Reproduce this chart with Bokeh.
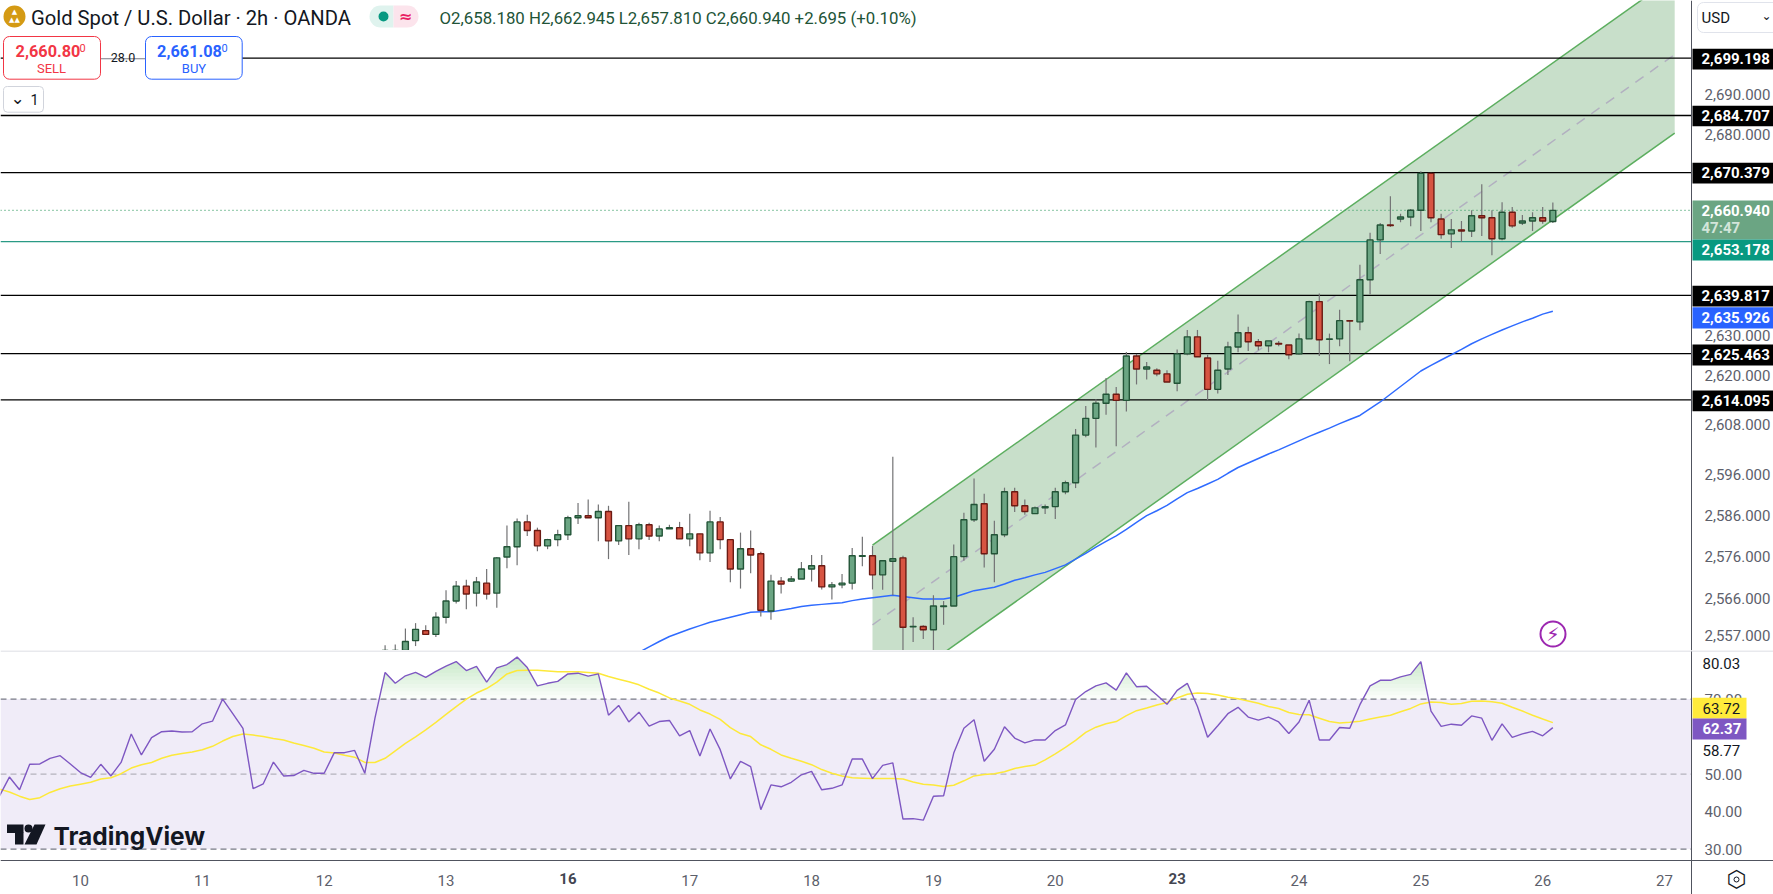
from bokeh.plotting import figure
from bokeh.layouts import column
from bokeh.models import (Range1d, FixedTicker, NumeralTickFormatter, Label, BoxAnnotation,
                          PolyAnnotation, ColumnDataSource)
from bokeh.embed import file_html
from bokeh.resources import INLINE
import numpy as np

# ---------- data ----------
opens = [2548.0,2549.0,2551.0,2555.8,2558.2,2557.3,2561.4,2565.3,2568.9,2567.2,2569.6,2567.2,2575.9,2578.4,2584.4,2582.3,2578.6,2580.1,2581.3,2585.4,
 2585.9,2585.4,2586.9,2579.8,2583.5,2580.3,2583.7,2581.0,2582.7,2583.0,2580.3,2581.5,2576.9,2584.4,2580.1,2573.0,2577.9,2576.7,2562.9,2570.1,
 2570.1,2570.6,2573.0,2573.8,2568.7,2569.2,2569.6,2576.1,2576.2,2571.6,2574.9,2575.7,2559.1,2559.2,2558.4,2564.0,2564.1,2576.0,2584.9,2588.8,
 2576.7,2581.3,2591.7,2588.3,2586.4,2587.8,2588.1,2591.7,2593.9,2605.5,2609.6,2613.3,2615.5,2614.0,2624.9,2621.7,2621.4,2620.5,2618.2,2625.4,
 2629.6,2624.4,2616.7,2621.7,2627.1,2630.6,2628.4,2627.4,2628.0,2627.6,2625.4,2629.1,2638.3,2629.0,2629.1,2633.6,2633.3,2643.7,2653.6,2657.3,
 2658.8,2659.3,2661.0,2670.2,2658.8,2655.1,2656.1,2655.8,2659.6,2659.1,2653.9,2660.5,2657.8,2658.3,2659.1,2658.18]
highs = [2554.7,2554.9,2558.7,2560.0,2559.5,2562.6,2567.9,2570.1,2570.4,2571.1,2573.0,2575.9,2583.5,2585.2,2586.1,2583.0,2580.3,2582.5,2585.9,2589.0,
 2589.8,2588.6,2588.3,2583.5,2589.3,2584.2,2584.2,2583.5,2583.7,2584.4,2586.4,2581.5,2587.1,2585.6,2580.1,2581.8,2582.3,2577.2,2571.6,2571.1,
 2571.3,2574.7,2576.4,2576.4,2569.9,2571.8,2578.1,2580.8,2578.6,2575.2,2600.2,2576.2,2561.4,2559.5,2566.7,2565.3,2578.9,2586.6,2594.9,2591.2,
 2584.7,2592.7,2592.7,2589.8,2588.1,2588.6,2592.7,2594.4,2607.0,2612.6,2614.3,2619.5,2617.3,2625.9,2625.4,2623.4,2621.9,2621.4,2626.5,2631.3,
 2631.3,2625.2,2623.7,2628.4,2635.1,2632.1,2629.1,2628.6,2628.6,2627.6,2630.4,2638.5,2640.3,2630.4,2636.3,2633.6,2647.4,2655.4,2657.8,2664.5,
 2660.1,2661.3,2670.7,2670.379,2660.1,2658.8,2658.3,2661.0,2667.5,2661.0,2663.0,2661.8,2659.8,2660.5,2661.8,2662.945]
lows = [2545.0,2546.0,2549.0,2554.5,2557.3,2556.7,2559.9,2564.7,2563.3,2564.0,2565.7,2563.7,2573.2,2573.9,2581.0,2577.3,2577.8,2578.5,2580.0,2583.9,
 2585.4,2579.7,2575.4,2578.8,2576.4,2577.8,2580.0,2579.7,2582.7,2580.3,2578.5,2575.1,2574.7,2577.8,2569.8,2568.3,2572.0,2561.6,2560.8,2567.1,
 2569.9,2570.6,2570.0,2568.1,2565.7,2568.4,2568.1,2573.7,2568.1,2568.0,2566.7,2552.0,2555.5,2556.2,2552.0,2559.6,2564.1,2575.0,2584.4,2573.4,
 2569.8,2580.7,2586.8,2586.1,2586.4,2586.3,2585.1,2591.1,2592.6,2605.0,2602.5,2610.5,2602.8,2611.3,2617.9,2619.1,2619.9,2618.5,2616.2,2625.1,
 2624.7,2614.0,2615.7,2620.2,2625.8,2626.1,2626.3,2625.8,2627.3,2624.1,2625.2,2629.1,2624.9,2622.9,2627.3,2623.6,2631.2,2640.1,2650.1,2656.8,
 2658.0,2657.0,2655.8,2658.0,2653.9,2651.6,2653.1,2654.3,2654.6,2649.8,2653.5,2656.6,2657.3,2655.8,2657.6,2657.81]
closes = [2551.0,2552.0,2555.6,2558.5,2557.3,2561.4,2565.3,2568.9,2567.0,2569.9,2567.0,2575.7,2578.4,2584.4,2582.3,2578.6,2580.1,2581.3,2585.4,2585.9,
 2585.4,2586.9,2579.8,2583.5,2580.3,2583.7,2581.0,2582.7,2583.0,2580.3,2581.5,2576.9,2584.4,2580.1,2573.0,2577.9,2576.4,2563.1,2570.1,2569.4,
 2570.6,2573.0,2573.8,2568.7,2569.2,2569.6,2576.2,2576.2,2571.6,2575.0,2575.5,2559.0,2559.2,2558.4,2564.1,2564.1,2576.0,2584.9,2588.6,2576.7,
 2581.3,2591.7,2588.3,2586.9,2587.8,2588.1,2591.7,2593.9,2605.5,2609.6,2613.3,2615.5,2614.0,2624.9,2621.7,2622.2,2620.5,2618.5,2625.4,2629.6,
 2624.7,2616.7,2621.4,2627.1,2630.6,2628.4,2627.4,2628.6,2627.8,2625.2,2629.1,2638.3,2628.9,2629.1,2633.6,2633.5,2643.7,2653.6,2657.3,2657.2,
 2659.3,2661.0,2670.2,2659.1,2654.9,2656.1,2655.8,2659.6,2659.1,2653.9,2660.5,2657.1,2658.3,2659.1,2658.3,2660.94]

ema_values = [2553.0,2554.3,2555.6,2556.8,2557.7,2558.6,2559.4,2560.2,2560.8,2561.4,2562.0,2562.6,2562.7,2562.7,2563.1,2563.5,2564.0,2564.3,2564.5,2564.7,
 2564.9,2565.4,2565.8,2566.1,2566.4,2566.7,2566.4,2566.1,2565.8,2565.8,2565.8,2566.2,2567.0,2567.8,2568.2,2568.6,2569.4,2570.3,2570.9,2571.6,
 2572.2,2573.1,2574.0,2575.4,2576.8,2578.3,2579.7,2581.0,2582.6,2584.3,2585.9,2587.1,2588.4,2590.0,2591.5,2592.5,2593.6,2594.7,2596.2,2597.6,
 2598.7,2599.8,2600.9,2601.9,2603.0,2604.1,2605.2,2606.2,2607.2,2608.3,2609.3,2610.3,2612.0,2613.6,2615.5,2617.4,2619.3,2621.2,2622.6,2623.9,
 2625.2,2626.5,2627.9,2629.1,2630.2,2631.3,2632.3,2633.3,2634.2,2635.2,2635.926]

rsi_values = [44.0,49.2,45.8,52.6,52.7,54.2,54.9,52.7,50.4,49.1,52.6,49.5,53.1,60.7,55.1,59.7,61.3,61.5,61.2,61.3,63.4,64.1,70.0,66.1,62.2,46.1,47.4,53.2,49.5,49.6,
 51.0,50.2,50.2,55.7,55.7,56.3,50.2,64.9,77.1,74.2,76.2,77.1,75.8,77.4,78.8,80.0,77.6,78.7,74.5,78.3,79.2,81.2,78.4,73.5,74.2,74.7,76.7,76.9,76.1,76.7,
 65.7,68.3,63.9,66.5,62.8,64.0,64.3,60.2,61.6,54.8,62.0,56.5,48.7,53.4,52.0,40.5,47.1,46.6,47.8,49.8,50.7,45.8,46.2,47.1,54.0,54.0,48.8,52.3,53.0,38.0,
 38.1,37.7,44.1,44.2,55.6,62.2,64.5,53.4,56.6,62.6,59.6,58.3,59.1,59.1,61.6,63.1,69.9,72.0,73.5,74.3,72.4,77.0,73.3,73.4,71.1,68.6,72.3,74.2,68.0,
 59.8,62.9,66.1,67.8,65.2,64.4,65.2,63.9,60.8,63.9,69.7,59.1,59.1,62.4,62.2,68.5,73.5,75.0,75.0,75.9,76.6,80.0,66.8,62.7,63.3,63.0,65.5,64.9,59.0,63.4,59.8,60.7,61.4,60.2,62.37]

rsi_ma_values = [46.0,45.2,44.1,43.2,43.7,45.1,46.1,46.8,47.3,47.8,48.7,49.0,50.1,51.6,52.5,53.1,54.2,55.0,55.5,55.9,56.5,57.4,58.8,60.0,60.7,60.4,60.0,59.5,59.1,58.3,
 57.6,56.9,55.9,55.6,55.0,54.5,53.1,53.1,54.2,56.2,58.2,59.9,61.8,63.8,65.9,68.0,70.0,71.6,72.8,74.5,76.7,77.6,77.7,77.7,77.5,77.3,77.3,77.3,77.1,76.9,
 76.0,75.3,74.6,73.8,72.6,71.6,70.3,69.5,68.6,67.1,66.0,64.6,62.4,60.8,60.0,57.8,56.6,55.1,54.2,53.4,52.5,51.2,50.2,49.5,49.0,48.9,48.8,48.8,48.8,48.7,
 47.9,47.3,47.1,46.7,47.0,48.2,49.5,49.9,50.1,50.6,51.5,52.0,52.4,53.8,55.4,57.1,59.0,61.1,62.5,63.4,64.0,65.6,66.9,67.6,68.4,69.1,70.3,71.3,71.6,
 71.5,71.1,70.5,70.1,69.5,68.9,68.0,67.5,66.4,65.9,65.8,64.9,64.0,63.6,63.8,64.1,64.7,65.2,65.7,66.6,67.5,68.7,69.2,69.1,68.6,68.8,69.4,69.5,69.3,68.9,67.8,66.8,65.7,64.7,63.72]

black_levels = [2699.198, 2684.707, 2670.379, 2639.817, 2625.463, 2614.095]
support_level = 2653.178
last_price = 2660.94
ema_last = 2635.926

channel_x = [86, 165]
channel_upper = [2578.8, 2719.9]
channel_middle = [2559.6, 2700.1]
channel_lower = [2540.8, 2680.3]

price_ticks = [2690, 2680, 2630, 2620, 2608, 2596, 2586, 2576, 2566, 2557]
rsi_ticks = [30, 40, 50, 70]
rsi_levels = [30, 50, 70]
day_positions = [8, 20, 32, 44, 56, 68, 80, 92, 104, 116, 128, 140, 152, 164]
day_labels = ["10", "11", "12", "13", "16", "17", "18", "19", "20", "23", "24", "25", "26", "27"]
bold_days = ["16", "23"]

FONT = "Roboto"
GREY = "#5d606b"

last_bar = 153
n = len(closes)
bars = np.arange(last_bar - n + 1, last_bar + 1)
X0, X1 = 0.124, 174.73       # whole canvas width
XAXIS = 166.66               # the price scale sits here
x_range = Range1d(X0, X1)

# ---------- price pane ----------
p = figure(width=1773, height=650, output_backend="svg",
           toolbar_location=None, x_range=x_range, y_range=Range1d(2553.44, 2713.8),
           y_axis_type="log", y_axis_location="right", x_axis_location=None,
           min_border_left=0, min_border_top=0, min_border_bottom=0, min_border_right=0)
p.outline_line_color = None
p.grid.visible = False
p.background_fill_color = "white"
ax = p.yaxis[0]
ax.fixed_location = XAXIS
ax.ticker = FixedTicker(ticks=price_ticks)
ax.formatter = NumeralTickFormatter(format="0,0.000")
ax.major_tick_line_color = None
ax.minor_tick_line_color = None
ax.axis_line_color = "#50535e"
ax.major_label_standoff = 7
ax.major_label_text_font = FONT
ax.major_label_text_font_size = "15px"
ax.major_label_text_color = GREY

p.patch(channel_x + channel_x[::-1], channel_upper + channel_lower[::-1],
        fill_color="#c8dfca", line_color=None)
p.line(channel_x, channel_upper, line_color="#5cae5f", line_width=1.5)
p.line(channel_x, channel_lower, line_color="#5cae5f", line_width=1.5)
p.line(channel_x, channel_middle, line_color="#b2b0c0", line_width=1.5, line_dash=[10, 8])

for lv in black_levels:
    p.line([X0, XAXIS], [lv, lv], line_color="#000000", line_width=1.3)
p.line([X0, XAXIS], [support_level, support_level], line_color="#2a9a85", line_width=1.3)
p.line([X0, XAXIS], [last_price, last_price], line_color="#3fa06a", line_width=1.2, line_dash=[1, 3])

ema_x = np.arange(last_bar - len(ema_values) + 1, last_bar + 1)
p.line(ema_x, ema_values, line_color="#2f6bff", line_width=1.5)

src = ColumnDataSource(dict(
    x=bars, o=opens, h=highs, l=lows, c=closes,
    top=np.maximum(opens, closes), bot=np.minimum(opens, closes),
    fill=["#6ba583" if c >= o else "#d75442" for o, c in zip(opens, closes)],
    edge=["#225437" if c >= o else "#6b1a13" for o, c in zip(opens, closes)],
))
p.segment("x", "h", "x", "l", source=src, line_color="#737375", line_width=1.2)
p.vbar("x", width=0.58, top="top", bottom="bot", source=src, fill_color="fill", line_color="edge", line_width=1.4)

# ---------- RSI pane ----------
q = figure(width=1773, height=244, output_backend="svg",
           toolbar_location=None, x_range=x_range, y_range=Range1d(17.88, 82.95),
           y_axis_location="right", min_border_left=0, min_border_top=0, min_border_bottom=0,
           min_border_right=0)
q.outline_line_color = None
q.grid.visible = False
ay = q.yaxis[0]
ay.fixed_location = XAXIS
ay.ticker = FixedTicker(ticks=rsi_ticks)
ay.formatter = NumeralTickFormatter(format="0.00")
ay.major_tick_line_color = None
ay.minor_tick_line_color = None
ay.axis_line_color = "#50535e"
ay.major_label_standoff = 7
ay.major_label_text_font = FONT
ay.major_label_text_font_size = "15px"
ay.major_label_text_color = GREY
axx = q.xaxis[0]
axx.fixed_location = 26.88
axx.ticker = FixedTicker(ticks=day_positions)
axx.major_label_overrides = {d: ("" if t in bold_days else t) for d, t in zip(day_positions, day_labels)}
axx.major_tick_line_color = None
axx.minor_tick_line_color = None
axx.axis_line_color = "#50535e"
axx.major_label_standoff = 8
axx.major_label_text_font = FONT
axx.major_label_text_font_size = "15px"
axx.major_label_text_color = GREY

q.quad(left=X0, right=XAXIS, top=rsi_levels[2], bottom=rsi_levels[0], fill_color="#f0ecf8", line_color=None)
for lv in rsi_levels:
    q.line([X0, XAXIS], [lv, lv], line_color="#b4b2bc" if lv == 50 else "#787b86", line_width=1.2, line_dash=[6, 4])

rsi_x = np.arange(last_bar - len(rsi_values) + 1, last_bar + 1)
fine_x = np.linspace(rsi_x[0], rsi_x[-1], len(rsi_x) * 20)
fine_r = np.interp(fine_x, rsi_x, rsi_values)
for t in np.arange(70, 81, 1.0):
    q.varea(fine_x, np.full_like(fine_x, t), np.maximum(fine_r, t), fill_color="#4caf50", fill_alpha=0.028)
q.line(np.arange(last_bar - len(rsi_ma_values) + 1, last_bar + 1), rsi_ma_values, line_color="#fde93a", line_width=1.5)
q.line(rsi_x, rsi_values, line_color="#7e57c2", line_width=1.4)


# ---------- overlay helpers: coordinates on the canvas ----------
def box(fig, oy, x0, x1, y0, y1, fill, line=None, radius=0, lw=1):
    b = BoxAnnotation(left=x0, right=x1, top=y0 - oy, bottom=y1 - oy,
                      left_units="canvas", right_units="canvas", top_units="canvas", bottom_units="canvas",
                      fill_color=fill, fill_alpha=1 if fill else 0, line_color=line, line_width=lw,
                      line_alpha=1, border_radius=radius)
    fig.add_layout(b)


def text(fig, oy, x, y, s, color="#131722", size=15, style="normal", align="left", font=FONT):
    fig.add_layout(Label(x=x, y=y - oy, x_units="canvas", y_units="canvas", text=s, text_color=color,
                         text_font=font, text_font_size=f"{size}px", text_font_style=style,
                         text_align=align, text_baseline="middle"))


OP, OR = 0, 650

# price scale tags
tag_boxes = [("2,699.198", 48.3, 69, "#000000"), ("2,684.707", 105.3, 125.7, "#000000"),
             ("2,670.379", 162.3, 183, "#000000"), ("2,639.817", 285.3, 306, "#000000"),
             ("2,635.926", 306.7, 328, "#2962ff"), ("2,625.463", 344, 365, "#000000"),
             ("2,614.095", 390, 410.7, "#000000"), ("2,653.178", 239, 260, "#089981")]
box(p, OP, 1692, 1773, 200, 239, "#6ba583")
text(p, OP, 1701, 209.5, "2,660.940", "white", 15, "bold")
text(p, OP, 1701, 227.5, "47:47", "#d3e5da", 15, "bold")
for s, y0, y1, col in tag_boxes:
    box(p, OP, 1692, 1773, y0, y1, col)
    text(p, OP, 1701, (y0 + y1) / 2 - 0.5, s, "white", 15, "bold")

# header
box(p, OP, 3, 25, 5, 27, "#d49a14", radius=11)
text(p, OP, 14, 11, "▲", "white", 7, align="center", font="DejaVu Sans")
text(p, OP, 14, 19, "▲▲", "white", 7, align="center", font="DejaVu Sans")
text(p, OP, 30.5, 17, "Gold Spot / U.S. Dollar · 2h · OANDA", "#131722", 20.2)
box(p, OP, 369, 393, 5, 27, "#dff3ee", radius=(11, 0, 0, 11))
box(p, OP, 393, 418, 5, 27, "#fce4ec", radius=(0, 11, 11, 0))
box(p, OP, 378, 388, 11, 21, "#089981", radius=5)
text(p, OP, 405, 16, "≈", "#e91e63", 16, "bold", "center", "DejaVu Sans")
text(p, OP, 439, 17, "O2,658.180  H2,662.945  L2,657.810  C2,660.940  +2.695 (+0.10%)", "#225437", 16.8)

# order panel
box(p, OP, 100, 145, 50, 66, "white")
box(p, OP, 100, 145, 57.8, 58.8, "#787b86")
text(p, OP, 122.5, 57, "28.0", "#131722", 12.5, align="center")
box(p, OP, 3, 100, 36, 78.7, "white", "#f23645", 6)
text(p, OP, 47.5, 50, "2,660.80", "#f23645", 16.3, "bold", "center")
text(p, OP, 79, 47.5, "0", "#f23645", 11)
text(p, OP, 51, 67.5, "SELL", "#f23645", 13, align="center")
box(p, OP, 145, 241.7, 36, 78.7, "white", "#2962ff", 6)
text(p, OP, 189, 50, "2,661.08", "#2962ff", 16.3, "bold", "center")
text(p, OP, 221, 47.5, "0", "#2962ff", 11)
text(p, OP, 193.5, 67.5, "BUY", "#2962ff", 13, align="center")
box(p, OP, 3, 43, 86, 111.7, "white", "#d1d4dc", 4)
text(p, OP, 17, 97, "⌄", "#131722", 17, align="center", font="DejaVu Sans")
text(p, OP, 30, 99, "1", "#131722", 14.5)

# currency selector
box(p, OP, 1697, 1780, 2, 32, "white", "#e0e3eb", 6)
text(p, OP, 1701, 17.5, "USD", "#131722", 15)
text(p, OP, 1766, 15, "⌄", "#131722", 12, align="center", font="DejaVu Sans")

# lightning badge
box(p, OP, 1540, 1565, 621, 646, "white", "#9c27b0", 13, 2)
text(p, OP, 1552.5, 633.5, "⚡", "#9c27b0", 19, align="center", font="DejaVu Sans")

# RSI frame and tags
box(q, OR, 0, 1773, 650, 651, "#d1d4dc")
text(q, OR, 1702, 662.7, "80.03", "#131722", 15)
box(q, OR, 1692, 1746, 697.3, 718, "#ffeb3b")
text(q, OR, 1702, 707.5, "63.72", "#131722", 15)
box(q, OR, 1692, 1746, 718, 739, "#7e57c2")
text(q, OR, 1702, 728, "62.37", "white", 15, "bold")
text(q, OR, 1702, 749.7, "58.77", "#131722", 15)
for d, t in zip(day_positions, day_labels):
    if t in bold_days:
        px = (d - X0) * (1773 / (X1 - X0))
        text(q, OR, px, 878, t, "#434651", 15, "bold", "center")
text(q, OR, 1736, 878, "⬡", "#131722", 23, align="center", font="DejaVu Sans")
box(q, OR, 1733.5, 1738.5, 876.5, 881.5, "white", "#131722", 3, 1)

# watermark
box(q, OR, 6.5, 23, 824, 832.5, "#131722")
box(q, OR, 14.5, 23, 832, 844, "#131722")
box(q, OR, 24, 32, 824, 832, "#131722", radius=4)
q.add_layout(PolyAnnotation(xs=[34, 45, 36, 24], ys=[174, 174, 194, 194], xs_units="canvas", ys_units="canvas",
                            fill_color="#131722", fill_alpha=1, line_color=None))
text(q, OR, 53, 835, "TradingView", "#131722", 24.5, "bold", font="Inter")

layout = column(p, q, spacing=0)
open("out.html", "w").write(file_html(layout, INLINE))
